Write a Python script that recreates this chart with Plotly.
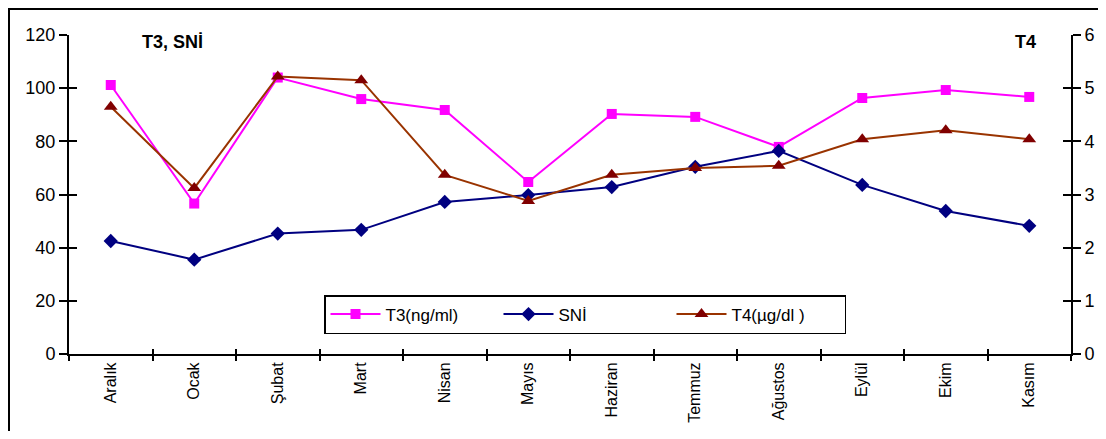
import plotly.graph_objects as go

months = ["Aralık", "Ocak", "Şubat", "Mart", "Nisan", "Mayıs", "Haziran",
          "Temmuz", "Ağustos", "Eylül", "Ekim", "Kasım"]
t3 = [101.2, 56.6, 104.0, 95.9, 91.8, 64.7, 90.3, 89.2, 77.9, 96.3, 99.3, 96.7]
sni = [42.5, 35.5, 45.3, 46.7, 57.2, 59.8, 62.8, 70.4, 76.4, 63.6, 53.8, 48.2]
t4 = [4.65, 3.12, 5.22, 5.15, 3.37, 2.88, 3.37, 3.50, 3.54, 4.04, 4.21, 4.04]

left_ticks = [0, 20, 40, 60, 80, 100, 120]
right_ticks = [0, 1, 2, 3, 4, 5, 6]

FONT = "Liberation Sans, Arial, sans-serif"

# page has an 8px body margin, so the figure is sized/offset to compensate
W, H = 1090, 423
L, R, T, B = 61, 27, 27, 77
PW, PH = W - L - R, H - T - B

fig = go.Figure()
fig.add_trace(go.Scatter(
    x=months, y=t3, name="T3(ng/ml)", mode="lines+markers",
    line=dict(color="#FF00FF", width=2),
    marker=dict(symbol="square", size=10, color="#FF00FF"),
))
fig.add_trace(go.Scatter(
    x=months, y=sni, name="SNİ", mode="lines+markers",
    line=dict(color="#000080", width=2),
    marker=dict(symbol="diamond", size=11, color="#000080"),
))
fig.add_trace(go.Scatter(
    x=months, y=t4, name="T4(µg/dl )", mode="lines+markers", yaxis="y2",
    line=dict(color="#993300", width=2),
    marker=dict(symbol="triangle-up", size=12, color="#800000"),
))
# empty helper traces so overlay axes (for crossing tick marks) are drawn
fig.add_trace(go.Scatter(x=[], y=[], xaxis="x2", yaxis="y3", showlegend=False, hoverinfo="skip"))
fig.add_trace(go.Scatter(x=[], y=[], xaxis="x2", yaxis="y4", showlegend=False, hoverinfo="skip"))

n = len(months)
bounds = [i - 0.5 for i in range(n + 1)]

fig.update_layout(
    width=W, height=H,
    margin=dict(l=L, r=R, t=T, b=B, autoexpand=False),
    paper_bgcolor="white", plot_bgcolor="white",
    font=dict(family=FONT, size=18, color="black"),
    showlegend=True,
    legend=dict(
        orientation="h", x=(324 - 69) / PW, y=(354 - 295) / PH,
        xanchor="left", yanchor="top",
        bgcolor="white", bordercolor="black", borderwidth=1.5,
        font=dict(family=FONT, size=17, color="black"),
        entrywidth=108, entrywidthmode="pixels", itemwidth=50,
    ),
    xaxis=dict(
        type="category", range=[-0.5, n - 0.5], tickson="boundaries",
        ticks="outside", ticklen=5, tickwidth=2, tickcolor="black",
        showline=True, linecolor="black", linewidth=2, showgrid=False,
        tickangle=-90, tickfont=dict(family=FONT, size=16), zeroline=False,
    ),
    xaxis2=dict(
        overlaying="x", anchor="y", range=[-0.5, n - 0.5],
        tickvals=bounds, ticks="inside", ticklen=5, tickwidth=2, tickcolor="black",
        showticklabels=False, showline=False, showgrid=False, zeroline=False,
    ),
    yaxis=dict(
        range=[0, 120], tickvals=left_ticks, ticks="outside", ticklen=8,
        tickwidth=2, tickcolor="black", showline=True, linecolor="black",
        linewidth=2, showgrid=False, zeroline=False, tickfont=dict(size=18),
    ),
    yaxis2=dict(
        range=[0, 6], tickvals=right_ticks, overlaying="y", side="right",
        ticks="outside", ticklen=8, tickwidth=2, tickcolor="black",
        showline=True, linecolor="black", linewidth=2, showgrid=False,
        zeroline=False, tickfont=dict(size=18),
    ),
    yaxis3=dict(
        range=[0, 120], tickvals=left_ticks, overlaying="y", anchor="x2", side="left",
        ticks="inside", ticklen=8, tickwidth=2, tickcolor="black",
        showticklabels=False, showline=False, showgrid=False, zeroline=False,
    ),
    yaxis4=dict(
        range=[0, 6], tickvals=right_ticks, overlaying="y", anchor="x2", side="right",
        ticks="inside", ticklen=8, tickwidth=2, tickcolor="black",
        showticklabels=False, showline=False, showgrid=False, zeroline=False,
    ),
    annotations=[
        dict(text="<b>T3, SNİ</b>", xref="paper", yref="paper",
             x=(172 - 69) / PW, y=(354 - 42) / PH, xanchor="center", yanchor="middle",
             showarrow=False, font=dict(family=FONT, size=18)),
        dict(text="<b>T4</b>", xref="paper", yref="paper",
             x=(1025 - 69) / PW, y=(354 - 42) / PH, xanchor="center", yanchor="middle",
             showarrow=False, font=dict(family=FONT, size=18)),
    ],
    shapes=[
        dict(type="rect", xref="paper", yref="paper",
             x0=(1 - L) / PW, x1=(W + 10 - L) / PW,
             y0=(PH + T - (H + 10)) / PH, y1=(PH + T - 1) / PH,
             line=dict(color="black", width=2), fillcolor="rgba(0,0,0,0)", layer="below"),
    ],
)

fig.write_html("out.html")
